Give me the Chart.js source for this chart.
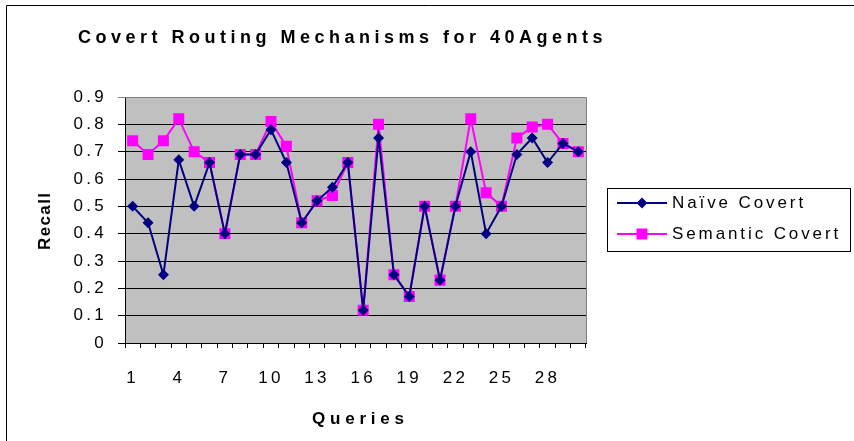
<!DOCTYPE html>
<html>
<head>
<meta charset="utf-8">
<script src="https://cdn.jsdelivr.net/npm/chart.js@4"></script>
<style>
    html, body { margin: 0; padding: 0; background: #fff; }
    #chart-wrap { width: 854px; height: 441px; position: relative; }
</style>
</head>
<body>
<div id="chart-wrap"><canvas id="chart-covert"></canvas></div>
<script>
const queries = Array.from({ length: 30 }, (_, i) => String(i + 1));
const naiveCovert = [0.50, 0.44, 0.25, 0.67, 0.50, 0.66, 0.40, 0.69, 0.69, 0.78,
    0.66, 0.44, 0.52, 0.57, 0.66, 0.12, 0.75, 0.25, 0.17, 0.50,
    0.23, 0.50, 0.70, 0.40, 0.50, 0.69, 0.75, 0.66, 0.73, 0.70];
const semanticCovert = [0.74, 0.69, 0.74, 0.82, 0.70, 0.66, 0.40, 0.69, 0.69, 0.81,
    0.72, 0.44, 0.52, 0.54, 0.66, 0.12, 0.80, 0.25, 0.17, 0.50,
    0.23, 0.50, 0.82, 0.55, 0.50, 0.75, 0.79, 0.80, 0.73, 0.70];
const recallTicks = [0, 0.1, 0.2, 0.3, 0.4, 0.5, 0.6, 0.7, 0.8, 0.9];

const FONT = '"Liberation Sans", Arial, sans-serif';
const NAVY = '#000080';
const MAGENTA = '#FF00FF';
const TICK_SPACING = '3.3px';

(function () {
    const canvas = document.querySelector('#chart-covert');

    // spaced-out text like the old Excel export
    function spacedText(ctx, text, x, y, font, spacing, align, baseline) {
        ctx.save();
        ctx.font = font;
        ctx.letterSpacing = spacing + 'px';
        ctx.textBaseline = baseline || 'middle';
        ctx.textAlign = 'left';
        const w = ctx.measureText(text).width - spacing;
        let sx = x;
        if (align === 'center') sx = x - w / 2;
        if (align === 'right') sx = x - w;
        ctx.fillText(text, sx, y);
        ctx.restore();
    }

    function marker(ctx, type, x, y, color) {
        ctx.save();
        ctx.fillStyle = color;
        ctx.beginPath();
        if (type === 'diamond') {
            ctx.moveTo(x - 5.5, y);
            ctx.lineTo(x, y - 5.5);
            ctx.lineTo(x + 5.5, y);
            ctx.lineTo(x, y + 5.5);
        } else {
            ctx.rect(x - 5.5, y - 5.5, 11, 11);
        }
        ctx.closePath();
        ctx.fill();
        ctx.restore();
    }

    const excelLook = {
        id: 'excelLook',
        beforeUpdate(chart) {
            chart.ctx.letterSpacing = TICK_SPACING;
        },
        beforeDraw(chart) {
            const { ctx, chartArea: a } = chart;
            ctx.save();
            ctx.fillStyle = '#fff';
            ctx.fillRect(0, 0, chart.width, chart.height);
            // outer frame (only top/left visible)
            ctx.strokeStyle = '#000';
            ctx.lineWidth = 1;
            ctx.beginPath();
            ctx.moveTo(6.5, chart.height);
            ctx.lineTo(6.5, 5.5);
            ctx.lineTo(chart.width, 5.5);
            ctx.stroke();
            ctx.fillStyle = '#C0C0C0';
            ctx.fillRect(a.left, a.top, a.right - a.left, a.bottom - a.top);
            ctx.restore();
            ctx.letterSpacing = TICK_SPACING;
        },
        afterDraw(chart) {
            const { ctx, chartArea: a } = chart;
            ctx.save();
            ctx.strokeStyle = '#808080';
            ctx.lineWidth = 1;
            ctx.beginPath();
            ctx.moveTo(a.left, Math.round(a.top) + 0.5);
            ctx.lineTo(Math.round(a.right) + 0.5, Math.round(a.top) + 0.5);
            ctx.lineTo(Math.round(a.right) + 0.5, a.bottom);
            ctx.stroke();
            ctx.fillStyle = '#000';

            spacedText(ctx, 'Covert Routing Mechanisms for 40Agents', 78, 43, 'bold 18px ' + FONT, 4.5, 'left', 'alphabetic');
            spacedText(ctx, 'Queries', 358, 419, 'bold 17px ' + FONT, 4.8, 'center');

            ctx.save();
            ctx.translate(45, 221.5);
            ctx.rotate(-Math.PI / 2);
            spacedText(ctx, 'Recall', 0, 0, 'bold 17px ' + FONT, 1.4, 'center');
            ctx.restore();

            // legend
            ctx.strokeStyle = '#000';
            ctx.lineWidth = 1;
            ctx.strokeRect(607.5, 188.5, 243, 63);
            const rows = [
                { label: 'Naïve Covert', color: NAVY, type: 'diamond', y: 203 },
                { label: 'Semantic Covert', color: MAGENTA, type: 'square', y: 234 }
            ];
            rows.forEach(r => {
                ctx.strokeStyle = r.color;
                ctx.lineWidth = 2;
                ctx.beginPath();
                ctx.moveTo(617, r.y);
                ctx.lineTo(667, r.y);
                ctx.stroke();
                marker(ctx, r.type, 642, r.y, r.color);
                ctx.fillStyle = '#000';
                spacedText(ctx, r.label, 672, r.y, '17px ' + FONT, 2.9, 'left');
            });
            ctx.restore();
        }
    };

    new Chart(canvas, {
        type: 'line',
        data: {
            labels: queries,
            datasets: [
                {
                    label: 'Naïve Covert',
                    data: naiveCovert,
                    borderColor: NAVY,
                    backgroundColor: NAVY,
                    borderWidth: 2,
                    pointStyle: 'rectRot',
                    pointRadius: 5.5,
                    pointBorderWidth: 0,
                    tension: 0
                },
                {
                    label: 'Semantic Covert',
                    data: semanticCovert,
                    borderColor: MAGENTA,
                    backgroundColor: MAGENTA,
                    borderWidth: 2,
                    pointStyle: 'rect',
                    pointRadius: 7.8,
                    pointBorderWidth: 0,
                    tension: 0
                }
            ]
        },
        options: {
            responsive: true,
            maintainAspectRatio: false,
            animation: false,
            layout: {
                padding: { left: 0, top: 97, right: 268, bottom: 0 }
            },
            scales: {
                x: {
                    offset: true,
                    afterFit: (scale) => { scale.height = 98; },
                    grid: {
                        offset: true,
                        drawOnChartArea: false,
                        drawTicks: true,
                        tickLength: 5,
                        color: '#000'
                    },
                    border: { color: '#000', width: 1 },
                    ticks: {
                        autoSkip: false,
                        maxRotation: 0,
                        padding: 20,
                        color: '#000',
                        font: { family: FONT, size: 17 },
                        callback: (val, i) => (i % 3 === 0 ? queries[i] : '')
                    }
                },
                y: {
                    min: recallTicks[0],
                    max: recallTicks[recallTicks.length - 1],
                    afterFit: (scale) => { scale.width = 125; },
                    afterBuildTicks: (scale) => {
                        scale.ticks = recallTicks.map(v => ({ value: v }));
                    },
                    grid: {
                        tickLength: 7,
                        color: (ctx) => (ctx.tick && ctx.tick.value === 0.9 ? '#808080' : '#000')
                    },
                    border: { color: '#000', width: 1 },
                    ticks: {
                        padding: 11,
                        color: '#000',
                        font: { family: FONT, size: 17 },
                        callback: (v) => (v === 0 ? '0' : v.toFixed(1))
                    }
                }
            },
            plugins: {
                legend: { display: false },
                title: { display: false },
                tooltip: { enabled: false }
            }
        },
        plugins: [excelLook]
    });
}());
</script>
</body>
</html>
